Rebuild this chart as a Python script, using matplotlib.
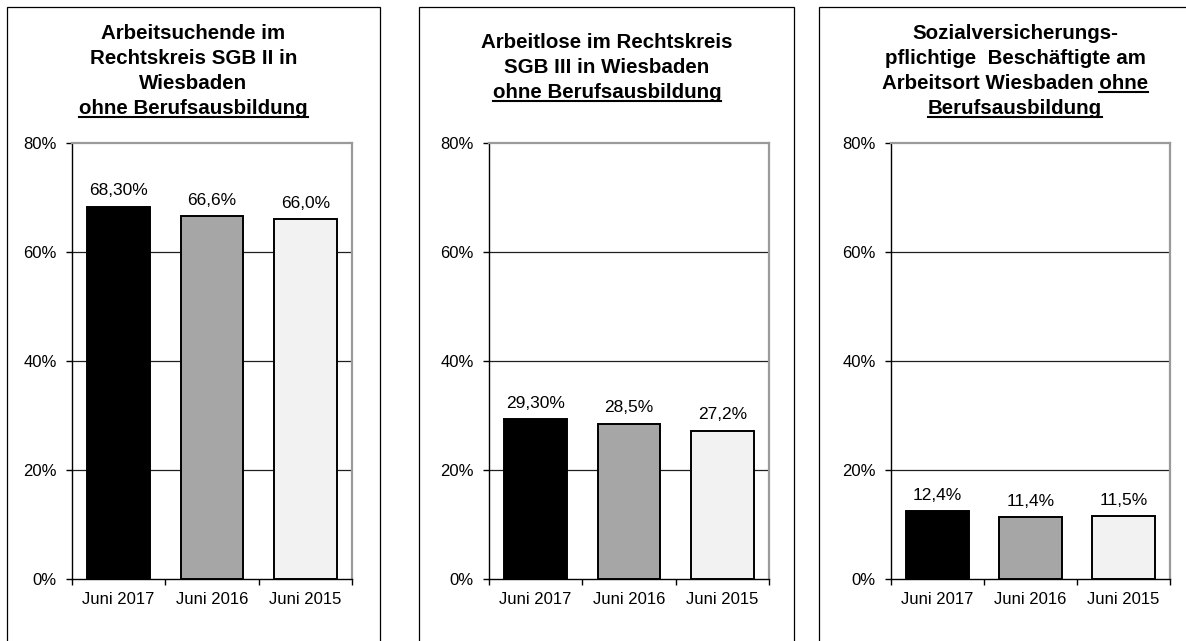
# Anteil ohne Berufsausbildung - drei Balkendiagramme fuer Wiesbaden
import matplotlib.pyplot as plt
from matplotlib.patches import Rectangle
from matplotlib.lines import Line2D

plt.rcParams['font.family'] = ['Liberation Sans', 'DejaVu Sans']

W, H = 1186, 641

categories = ['Juni 2017', 'Juni 2016', 'Juni 2015']
bar_colors = ['#000000', '#a6a6a6', '#f2f2f2']

sgb2_values = [68.3, 66.6, 66.0]
sgb2_labels = ['68,30%', '66,6%', '66,0%']

sgb3_values = [29.3, 28.5, 27.2]
sgb3_labels = ['29,30%', '28,5%', '27,2%']

svb_values = [12.4, 11.4, 11.5]
svb_labels = ['12,4%', '11,4%', '11,5%']

yticks = [0, 20, 40, 60, 80]

# title lines: (text, underline part or None)
sgb2_title = [('Arbeitsuchende im', None),
              ('Rechtskreis SGB II in', None),
              ('Wiesbaden', None),
              ('ohne Berufsausbildung', 'all')]
sgb3_title = [('Arbeitlose im Rechtskreis', None),
              ('SGB III in Wiesbaden', None),
              ('ohne Berufsausbildung', 'all')]
svb_title = [('Sozialversicherungs-', None),
             ('pflichtige  Beschäftigte am', None),
             ('Arbeitsort Wiesbaden ohne', 'ohne'),
             ('Berufsausbildung', 'all')]

fig = plt.figure(figsize=(W / 100, H / 100), dpi=100)


def px(x, y):
    # pixel position (from top left) -> figure fraction
    return x / W, 1 - y / H


def panel(x_left, x_right, values, labels):
    left, bottom = px(x_left, 579)
    ax = fig.add_axes([left, bottom, (x_right - x_left) / W, (579 - 143) / H])
    xs = range(len(values))
    ax.bar(xs, values, width=0.67, color=bar_colors, edgecolor='black',
           linewidth=1.4, zorder=3)
    for x, v, lab in zip(xs, values, labels):
        ax.annotate(lab, (x, v), xytext=(0, 6), textcoords='offset points',
                    ha='center', va='bottom', fontsize=12.5)
    ax.set_xlim(-0.5, len(values) - 0.5)
    ax.set_ylim(0, 80)
    ax.set_yticks(yticks)
    ax.set_yticklabels([f'{t}%' for t in yticks], fontsize=12)
    ax.set_xticks(list(xs))
    ax.set_xticklabels(categories, fontsize=12)
    ax.set_xticks([i - 0.5 for i in range(len(values) + 1)], minor=True)
    ax.tick_params(axis='x', which='major', length=0, pad=9)
    ax.tick_params(axis='x', which='minor', length=4, width=1, color='black')
    ax.tick_params(axis='y', length=4, width=1, pad=7)
    for t in yticks[1:-1]:
        ax.axhline(t, color='#202020', linewidth=0.9, zorder=1)
    ax.spines['left'].set_color('black')
    ax.spines['bottom'].set_color('black')
    ax.spines['left'].set_linewidth(1.0)
    ax.spines['bottom'].set_linewidth(1.0)
    for s in ('top', 'right'):
        ax.spines[s].set_color('#9a9a9a')
        ax.spines[s].set_linewidth(1.6)
    return ax


def frame(x0, x1):
    # panel border running off the lower edge
    fx0, fy0 = px(x0, 700)
    fx1, fy1 = px(x1, 6.5)
    fig.patches.append(Rectangle((fx0, fy0), fx1 - fx0, fy1 - fy0,
                                 transform=fig.transFigure, fill=False,
                                 edgecolor='black', linewidth=0.9))


def title(cx, baselines, lines):
    texts = []
    for (txt, ul), yb in zip(lines, baselines):
        fx, fy = px(cx, yb)
        t = fig.text(fx, fy, txt, ha='center', va='baseline',
                     fontsize=14.8, fontweight='bold')
        texts.append((t, txt, ul, yb))
    return texts


panel(72, 352, sgb2_values, sgb2_labels)
panel(489, 769, sgb3_values, sgb3_labels)
panel(891, 1170, svb_values, svb_labels)

frame(7, 380)
frame(419, 794)
frame(819, 1260)

all_titles = []
all_titles += title(193.5, [39, 64, 89, 114], sgb2_title)
all_titles += title(607, [48, 73, 98], sgb3_title)
all_titles += title(1015, [39, 64, 89, 114], svb_title)

fig.canvas.draw()
renderer = fig.canvas.get_renderer()
for t, txt, ul, yb in all_titles:
    if ul is None:
        continue
    bb = t.get_window_extent(renderer)
    x0, x1 = bb.x0, bb.x1
    if ul != 'all':
        probe = fig.text(0, 0, ul, fontsize=14.8, fontweight='bold')
        w = probe.get_window_extent(renderer).width
        probe.remove()
        x0 = x1 - w
    y = (H - (yb + 3)) / H
    fig.lines.append(Line2D([x0 / W, x1 / W], [y, y], transform=fig.transFigure,
                            color='black', linewidth=1.5))

fig.savefig('out.png', dpi=100)
